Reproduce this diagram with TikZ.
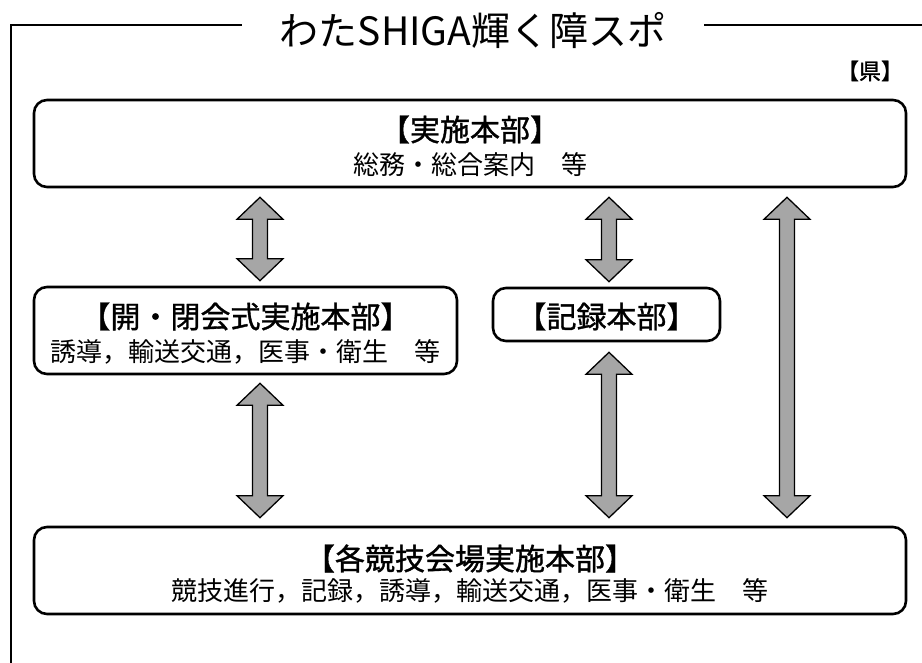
\documentclass[tikz,border=0pt]{standalone}
\usepackage{fontspec}
\newfontfamily\jp{Noto Sans CJK JP}
\newfontfamily\jpb[FakeBold=1.2]{Noto Sans CJK JP}
\usetikzlibrary{calc}
\definecolor{arrowgray}{RGB}{166,166,166}
\newcommand\blockarrow[2]{%
  \draw[arr] (#1) -- ++(23,22) -- ++(-15.5,0) -- ($(#2)+(7.5,-22)$) -- ++(15.5,0)
    -- (#2) -- ++(-23,-22) -- ++(15.5,0) -- ($(#1)+(-7.5,22)$) -- ++(-15.5,0) -- cycle;}
\begin{document}
\begin{tikzpicture}[x=1pt,y=-1pt,
  box/.style={draw,line width=2.6pt,rounded corners=13pt,inner sep=0pt},
  frame/.style={line width=2.8pt},
  arr/.style={draw=black,fill=arrowgray,line width=1.3pt,line join=miter},
  titletext/.style={font=\jp\fontsize{39}{39}\selectfont,inner sep=0pt},
  head/.style={font=\jpb\fontsize{30}{30}\selectfont,inner sep=0pt},
  body/.style={font=\jp\fontsize{26}{26}\selectfont,inner sep=0pt},
  tag/.style={font=\jpb\fontsize{22}{22}\selectfont,inner sep=0pt}]
\useasboundingbox (0,0) rectangle (922,663);
% frame and title
\node[titletext] (title) at (473,31) {わたSHIGA輝く障スポ};
\coordinate (fl) at (242,25);
\coordinate (fr) at (704,25);
\draw[frame] (11,663) -- (11,25) -- (fl);
\draw[frame] (fr) -- (922,25);
\node[tag] (ken) at (870,71) {【県】};
% boxes
\node[box,minimum width=872pt,minimum height=87pt] (hq) at (470,143.5) {};
\node[head] (hqT) at ($(hq.center)+(0,-14)$) {【実施本部】};
\node[body] (hqS) at ($(hq.center)+(0,21)$) {総務・総合案内　等};
\node[box,minimum width=423pt,minimum height=87pt] (cer) at (245.5,330.5) {};
\node[head] (cerT) at ($(cer.center)+(0,-14)$) {【開・閉会式実施本部】};
\node[body] (cerS) at ($(cer.center)+(0,21)$) {誘導，輸送交通，医事・衛生　等};
\node[box,minimum width=227pt,minimum height=53pt] (rec) at (606.5,314.5) {};
\node[head] (recT) at ($(rec.center)+(0,2)$) {【記録本部】};
\node[box,minimum width=872pt,minimum height=87pt] (ven) at (470,570.5) {};
\node[head] (venT) at ($(ven.center)+(0,-12)$) {【各競技会場実施本部】};
\node[body] (venS) at ($(ven.center)+(0,20.5)$) {競技進行，記録，誘導，輸送交通，医事・衛生　等};
% arrows
\coordinate (c1) at (260,0);
\coordinate (c2) at (609,0);
\coordinate (c3) at (787,0);
\coordinate (a1t) at ($(hq.south -| c1)+(0,9)$);
\coordinate (a1b) at ($(cer.north -| c1)+(0,-5)$);
\coordinate (a2t) at ($(cer.south -| c1)+(0,8)$);
\coordinate (a2b) at ($(ven.north -| c1)+(0,-8)$);
\coordinate (a3t) at ($(hq.south -| c2)+(0,9)$);
\coordinate (a3b) at ($(rec.north -| c2)+(0,-5)$);
\coordinate (a4t) at ($(rec.south -| c2)+(0,10)$);
\coordinate (a4b) at ($(ven.north -| c2)+(0,-8)$);
\coordinate (a5t) at ($(hq.south -| c3)+(0,9)$);
\coordinate (a5b) at ($(ven.north -| c3)+(0,-8)$);
\blockarrow{a1t}{a1b}
\blockarrow{a2t}{a2b}
\blockarrow{a3t}{a3b}
\blockarrow{a4t}{a4b}
\blockarrow{a5t}{a5b}
\end{tikzpicture}
\end{document}
